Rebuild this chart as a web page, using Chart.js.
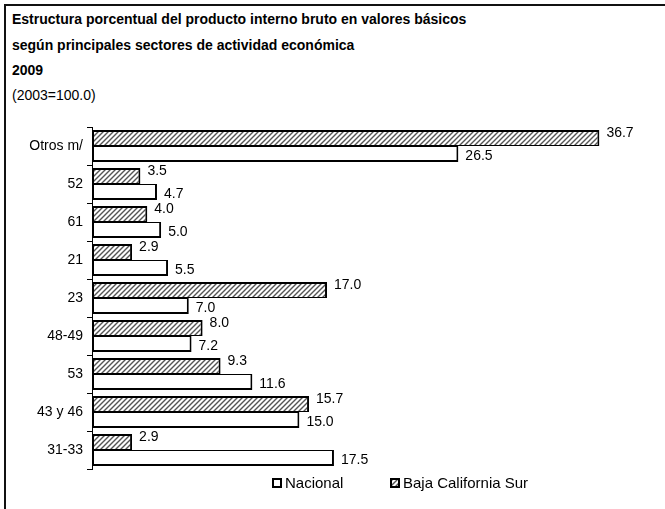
<!DOCTYPE html>
<html>
<head>
<meta charset="utf-8">
<script src="https://cdn.jsdelivr.net/npm/chart.js@4/dist/chart.umd.min.js"></script>
<style>
  html, body { margin: 0; padding: 0; background: #fff; }
  body { width: 665px; height: 509px; position: relative; overflow: hidden; font-family: "Liberation Sans", Arial, sans-serif; color: #000; }
  #frame { position: absolute; left: 4px; top: 4px; width: 700px; height: 600px; border-left: 2px solid #111; border-top: 2px solid #111; }
  .t { position: absolute; left: 12px; font-size: 14px; line-height: 16px; white-space: nowrap; }
  .b { font-weight: bold; }
  #wrap { position: absolute; left: 0; top: 0; width: 665px; height: 509px; }
  .lg { position: absolute; font-size: 15px; line-height: 16px; white-space: nowrap; }
  .sw { position: absolute; width: 6px; height: 6px; border: 2px solid #000; }
</style>
</head>
<body>
<div id="frame"></div>
<div class="t b" style="top:11px">Estructura porcentual del producto interno bruto en valores básicos</div>
<div class="t b" style="top:37px">según principales sectores de actividad económica</div>
<div class="t b" style="top:62px">2009</div>
<div class="t" style="top:87px">(2003=100.0)</div>
<div id="wrap"><canvas id="c"></canvas></div>
<div class="sw" style="left:272px; top:478px; background:#fff;"></div>
<div class="lg" style="left:285px; top:475px;">Nacional</div>
<div class="sw" id="swb" style="left:390px; top:478px;"></div>
<div class="lg" style="left:403px; top:475px;">Baja California Sur</div>
<script>
const categories = ['Otros m/', '52', '61', '21', '23', '48-49', '53', '43 y 46', '31-33'];
const bajaCaliforniaSur = [36.7, 3.5, 4.0, 2.9, 17.0, 8.0, 9.3, 15.7, 2.9];
const nacional = [26.5, 4.7, 5.0, 5.5, 7.0, 7.2, 11.6, 15.0, 17.5];
const seriesNames = ['Baja California Sur', 'Nacional'];

function makeHatch() {
  const s = 5;
  const pc = document.createElement('canvas');
  pc.width = s; pc.height = s;
  const g = pc.getContext('2d');
  g.fillStyle = '#fff';
  g.fillRect(0, 0, s, s);
  g.strokeStyle = '#555';
  g.lineWidth = 1.4;
  g.beginPath();
  g.moveTo(-1, s + 1); g.lineTo(s + 1, -1);
  g.moveTo(-1, 1); g.lineTo(1, -1);
  g.moveTo(s - 1, s + 1); g.lineTo(s + 1, s - 1);
  g.stroke();
  return pc;
}
const hatchCanvas = makeHatch();
document.getElementById('swb').style.background = 'url(' + hatchCanvas.toDataURL() + ')';

const ctx = document.getElementById('c').getContext('2d');
const hatch = ctx.createPattern(hatchCanvas, 'repeat');

const valueLabels = {
  id: 'valueLabels',
  afterDatasetsDraw(chart) {
    const c = chart.ctx;
    c.save();
    c.font = '14px "Liberation Sans", Arial, sans-serif';
    c.fillStyle = '#000';
    c.textAlign = 'left';
    c.textBaseline = 'middle';
    chart.data.datasets.forEach((ds, di) => {
      const meta = chart.getDatasetMeta(di);
      const dy = di === 0 ? -5 : 2;
      meta.data.forEach((bar, i) => {
        c.fillText(Number(ds.data[i]).toFixed(1), bar.x + 7, bar.y + dy);
      });
    });
    c.restore();
  }
};

new Chart(ctx, {
  type: 'bar',
  data: {
    labels: categories,
    datasets: [
      {
        label: seriesNames[0],
        data: bajaCaliforniaSur,
        backgroundColor: hatch,
        borderColor: '#000',
        borderWidth: { top: 2, right: 2, bottom: 1, left: 2 },
        borderSkipped: false,
        barPercentage: 1,
        categoryPercentage: 0.842
      },
      {
        label: seriesNames[1],
        data: nacional,
        backgroundColor: '#fff',
        borderColor: '#000',
        borderWidth: { top: 1, right: 2, bottom: 2, left: 2 },
        borderSkipped: false,
        barPercentage: 1,
        categoryPercentage: 0.842
      }
    ]
  },
  options: {
    indexAxis: 'y',
    responsive: true,
    maintainAspectRatio: false,
    animation: false,
    layout: { padding: { top: 127, bottom: 40, left: 0, right: 20 } },
    plugins: {
      legend: { display: false },
      tooltip: { enabled: false },
      title: { display: false }
    },
    scales: {
      x: { display: false, min: 0, max: 40 },
      y: {
        afterFit(scale) { scale.width = 92; },
        grid: { display: true, drawOnChartArea: false, drawTicks: true, tickLength: 5, color: '#000', offset: true },
        border: { display: true, color: '#000', width: 1 },
        ticks: { color: '#000', padding: 4, font: { family: '"Liberation Sans", Arial, sans-serif', size: 14 } }
      }
    }
  },
  plugins: [valueLabels]
});
</script>
</body>
</html>
